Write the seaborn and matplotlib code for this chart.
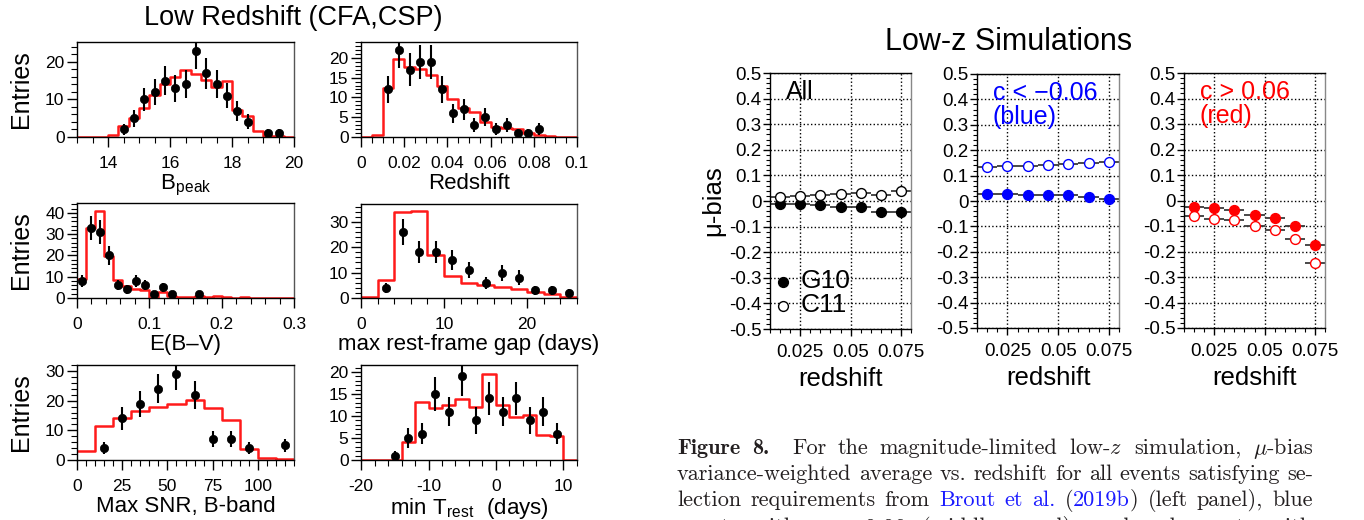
import numpy as np
import pandas as pd
import matplotlib
matplotlib.use("Agg")
import matplotlib.pyplot as plt
import seaborn as sns
from matplotlib.ticker import MultipleLocator

# ====================== DATA ======================
# ---- Left figure: Low Redshift (CFA,CSP); red = simulation, black = data ----
bpeak_edges = np.linspace(13.0, 20.0, 22)
bpeak_sim = [0, 0, 0, 0.5, 2.8, 5.1, 7.8, 11.3, 14.2, 16.0, 17.8, 16.7, 15.1, 13.2,
             14.8, 7.1, 5.5, 1.5, 0.3, 0.2, 0]
bpeak_x = [14.5, 14.833, 15.167, 15.5, 15.833, 16.167, 16.5, 16.833, 17.167, 17.5,
           17.833, 18.167, 18.5, 19.167, 19.5]
bpeak_n = [2, 5, 10, 12, 15, 13, 14, 23, 17, 14, 11, 7, 4, 1, 1]

z_edges = np.linspace(0.0, 0.1, 21)
z_sim = [0, 0.6, 12.5, 19.6, 17.6, 17.3, 15.6, 12.8, 9.5, 7.2, 6.2, 3.8, 2.6, 2.3,
         2.0, 1.0, 0.5, 0.15, 0, 0]
z_x = [0.0125, 0.0175, 0.0225, 0.0275, 0.0325, 0.0375, 0.0425, 0.0475, 0.0525,
       0.0575, 0.0625, 0.0675, 0.0725, 0.0775, 0.0825]
z_n = [12, 22, 17, 19, 19, 12, 6, 7, 3, 5, 2, 3, 1, 1, 2]

ebv_edges = np.linspace(0.0, 0.3, 25)
ebv_sim = [9.1, 32.8, 40.8, 19.6, 8.6, 5.5, 4.2, 3.9, 0, 2.8, 0.8, 0.3, 0.3, 0.8,
           0.3, 0.8, 0.3, 0, 0.3, 0, 0, 0, 0, 0]
ebv_x = [0.00625, 0.01875, 0.03125, 0.04375, 0.05625, 0.06875, 0.08125, 0.09375,
         0.10625, 0.11875, 0.13125, 0.16875]
ebv_n = [8, 33, 31, 20, 6, 4, 8, 6, 2, 5, 2, 2]

gap_edges = np.linspace(0, 26, 14)
gap_sim = [0.4, 7.2, 34.0, 34.2, 17.1, 8.8, 5.9, 5.3, 4.3, 3.6, 2.4, 1.4, 0.5]
gap_x = [3, 5, 7, 9, 11, 13, 15, 17, 19, 21, 23, 25]
gap_n = [4, 26, 18, 18, 15, 11, 6, 10, 8, 3, 3, 2]

snr_edges = np.linspace(0, 120, 13)
snr_sim = [3.0, 11.4, 14.0, 16.6, 17.9, 18.7, 20.2, 17.6, 13.4, 3.7, 0.6, 0.2]
snr_x = [15, 25, 35, 45, 55, 65, 75, 85, 95, 115]
snr_n = [4, 14, 19, 24, 29, 22, 7, 7, 4, 5]

trest_edges = np.linspace(-20, 12, 17)
trest_sim = [0, 0, 0, 4.0, 13.2, 11.8, 12.6, 13.8, 12.0, 19.5, 12.5, 9.8, 10.3,
             5.7, 5.4, 0]
trest_x = [-15, -13, -11, -9, -7, -5, -3, -1, 1, 3, 5, 7, 9]
trest_n = [1, 5, 6, 15, 11, 19, 9, 14, 11, 14, 9, 11, 6]

# tick labels of the left panels
bpeak_xticks, bpeak_xlabels = [14, 16, 18, 20], ["14", "16", "18", "20"]
z_xticks, z_xlabels = [0, 0.02, 0.04, 0.06, 0.08, 0.1], ["0", "0.02", "0.04", "0.06", "0.08", "0.1"]
ebv_xticks, ebv_xlabels = [0, 0.1, 0.2, 0.3], ["0", "0.1", "0.2", "0.3"]
gap_xticks, gap_xlabels = [0, 10, 20], ["0", "10", "20"]
snr_xticks, snr_xlabels = [0, 25, 50, 75, 100], ["0", "25", "50", "75", "100"]
trest_xticks, trest_xlabels = [-20, -10, 0, 10], ["-20", "-10", "0", "10"]

# ---- Right figure: Low-z Simulations, mu-bias vs redshift ----
mu_z = [0.015, 0.025, 0.035, 0.045, 0.055, 0.065, 0.075]
all_g10 = [-0.010, -0.010, -0.016, -0.023, -0.025, -0.042, -0.042]
all_c11 = [0.016, 0.020, 0.023, 0.027, 0.032, 0.025, 0.038]
blue_g10 = [0.027, 0.027, 0.024, 0.022, 0.023, 0.014, 0.007]
blue_c11 = [0.132, 0.136, 0.136, 0.141, 0.146, 0.150, 0.155]
red_g10 = [-0.025, -0.031, -0.039, -0.058, -0.070, -0.099, -0.175]
red_c11 = [-0.059, -0.071, -0.078, -0.099, -0.114, -0.150, -0.244]
mu_xticks, mu_xlabels = [0.025, 0.05, 0.075], ["0.025", "0.05", "0.075"]
mu_yticks = [0.5, 0.4, 0.3, 0.2, 0.1, 0.0, -0.1, -0.2, -0.3, -0.4, -0.5]
mu_ylabels = ["0.5", "0.4", "0.3", "0.2", "0.1", "0", "-0.1", "-0.2", "-0.3", "-0.4", "-0.5"]

# ---- Caption ----
caption_lines = [
    [[("Figure", "b")], [("8.", "b")], [("For", "r")], [("the", "r")],
     [("magnitude-limited", "r")], [("low-$z$", "r")], [("simulation,", "r")],
     [(r"$\mu$-bias", "r")]],
    [[(w, "r")] for w in "variance-weighted average vs. redshift for all events satisfying se-".split()],
    [[("lection", "r")], [("requirements", "r")], [("from", "r")], [("Brout", "l")],
     [("et", "l")], [("al.", "l")], [("(", "r"), ("2019b", "l"), (")", "r")],
     [("(left", "r")], [("panel),", "r")], [("blue", "r")]],
    [[(w, "r")] for w in "events with".split()] + [[("$c<-0.06$", "r")]] +
    [[(w, "r")] for w in "(middle panel), and red events with".split()],
]

# ====================== STYLE ======================
W, H = 1364, 520
sns.set_theme(style="ticks")
plt.rcParams["font.family"] = ["Liberation Sans", "DejaVu Sans"]
plt.rcParams["mathtext.fontset"] = "cm"
plt.rcParams["axes.unicode_minus"] = False
plt.rcParams["text.color"] = "black"
plt.rcParams["axes.labelcolor"] = "black"
plt.rcParams["xtick.color"] = "black"
plt.rcParams["ytick.color"] = "black"

fig = plt.figure(figsize=(W / 100, H / 100), dpi=100)
fig.patch.set_facecolor("white")


def px_axes(l, t, r, b):
    return fig.add_axes([l / W, 1 - b / H, (r - l) / W, (b - t) / H])


# ====================== LEFT HISTOGRAMS ======================
left_panels = [
    dict(box=(77, 42, 294, 137), edges=bpeak_edges, sim=bpeak_sim, x=bpeak_x, n=bpeak_n,
         xlim=(13, 20), ylim=(0, 25.3), xt=bpeak_xticks, xl=bpeak_xlabels, xmin=0.5,
         yt=[0, 10, 20], ymin=2, xlabel=r"B$_\mathregular{peak}$", ent=True),
    dict(box=(361, 42, 577, 137), edges=z_edges, sim=z_sim, x=z_x, n=z_n,
         xlim=(0, 0.1), ylim=(0, 24), xt=z_xticks, xl=z_xlabels, xmin=0.005,
         yt=[0, 5, 10, 15, 20], ymin=1, xlabel="Redshift", ent=False),
    dict(box=(77, 203, 294, 298), edges=ebv_edges, sim=ebv_sim, x=ebv_x, n=ebv_n,
         xlim=(0, 0.3), ylim=(0, 44.7), xt=ebv_xticks, xl=ebv_xlabels, xmin=0.02,
         yt=[0, 10, 20, 30, 40], ymin=2, xlabel="E(B\u2013V)", ent=True),
    dict(box=(361, 204, 577, 298), edges=gap_edges, sim=gap_sim, x=gap_x, n=gap_n,
         xlim=(0, 26), ylim=(0, 37), xt=gap_xticks, xl=gap_xlabels, xmin=2,
         yt=[0, 10, 20, 30], ymin=2, xlabel="max rest-frame gap (days)", ent=False),
    dict(box=(77, 365, 294, 460), edges=snr_edges, sim=snr_sim, x=snr_x, n=snr_n,
         xlim=(0, 120), ylim=(0, 32), xt=snr_xticks, xl=snr_xlabels, xmin=5,
         yt=[0, 10, 20, 30], ymin=2, xlabel="Max SNR, B-band", ent=True),
    dict(box=(361, 365, 577, 460), edges=trest_edges, sim=trest_sim, x=trest_x, n=trest_n,
         xlim=(-20, 12), ylim=(0, 21.6), xt=trest_xticks, xl=trest_xlabels, xmin=2,
         yt=[0, 5, 10, 15, 20], ymin=1, xlabel=r"min T$_\mathregular{rest}$  (days)", ent=False),
]

for p in left_panels:
    ax = px_axes(*p["box"])
    edges = [float(e) for e in p["edges"]]
    hist_df = pd.DataFrame({"center": [(a + b) / 2 for a, b in zip(edges[:-1], edges[1:])],
                            "entries": [float(v) for v in p["sim"]]})
    sns.histplot(data=hist_df, x="center", weights="entries", bins=edges,
                 element="step", fill=False, color="#ff1a1a", linewidth=1.8,
                 ax=ax, zorder=2)
    n = np.asarray(p["n"], dtype=float)
    ax.errorbar(p["x"], n, yerr=np.sqrt(n), fmt="none", ecolor="black",
                elinewidth=1.5, capsize=0, zorder=3)
    sns.scatterplot(x=p["x"], y=n, color="black", s=36, edgecolor="black",
                    linewidth=0.5, ax=ax, zorder=4)
    ax.set_xlim(*p["xlim"])
    ax.set_ylim(*p["ylim"])
    ax.set_xticks(p["xt"])
    ax.set_xticklabels(p["xl"])
    ax.set_yticks(p["yt"])
    ax.xaxis.set_minor_locator(MultipleLocator(p["xmin"]))
    ax.yaxis.set_minor_locator(MultipleLocator(p["ymin"]))
    ax.tick_params(which="major", direction="out", length=7, width=1, labelsize=12.5)
    ax.tick_params(which="minor", direction="out", length=4, width=0.8)
    ax.tick_params(axis="x", which="major", pad=7)
    ax.tick_params(axis="y", which="major", pad=2)
    for s in ax.spines.values():
        s.set_visible(True)
        s.set_color("black")
        s.set_linewidth(1.0)
    ax.spines["right"].set_color("#555555")
    ax.set_xlabel(p["xlabel"], fontsize=16, labelpad=1)
    ax.set_ylabel("Entries" if p["ent"] else "", fontsize=18, labelpad=9)
    ax.set_facecolor("white")

fig.text(293 / W, 1 - 18 / H, "Low Redshift (CFA,CSP)", ha="center", va="center",
         fontsize=19.5)

# ====================== RIGHT MU-BIAS PANELS ======================
right_panels = [
    dict(box=(770, 73, 911, 329), g10=all_g10, c11=all_c11, col="black",
         txt=["All"], ylabel=True, legend=True),
    dict(box=(977, 74, 1119, 328), g10=blue_g10, c11=blue_c11, col="#0000ff",
         txt=["c < \u22120.06", "(blue)"], ylabel=False, legend=False),
    dict(box=(1184, 73, 1325, 328), g10=red_g10, c11=red_c11, col="#ff0000",
         txt=["c > 0.06", "(red)"], ylabel=False, legend=False),
]

for p in right_panels:
    ax = px_axes(*p["box"])
    ax.set_facecolor("white")
    ax.grid(True, which="major", linestyle=":", color="black", linewidth=1.0, zorder=0)
    for series in (p["g10"], p["c11"]):
        ax.errorbar(mu_z, series, xerr=0.005, fmt="none", ecolor="#3a3a3a",
                    elinewidth=1.3, capsize=0, zorder=2)
    sns.scatterplot(x=mu_z, y=p["g10"], color=p["col"], edgecolor=p["col"], s=50,
                    linewidth=1, ax=ax, zorder=3, label="G10")
    sns.scatterplot(x=mu_z, y=p["c11"], color="white", edgecolor=p["col"], s=50,
                    linewidth=1, ax=ax, zorder=3, label="C11")
    ax.set_xlim(0.01, 0.08)
    ax.set_ylim(-0.5, 0.5)
    ax.set_xticks(mu_xticks)
    ax.set_xticklabels(mu_xlabels)
    ax.set_yticks(mu_yticks)
    ax.set_yticklabels(mu_ylabels)
    ax.xaxis.set_minor_locator(MultipleLocator(0.005))
    ax.yaxis.set_minor_locator(MultipleLocator(0.02))
    ax.tick_params(which="major", direction="out", length=5, width=1, labelsize=13.5)
    ax.tick_params(which="minor", direction="out", length=3, width=0.8)
    ax.tick_params(axis="y", which="major", pad=1)
    ax.tick_params(axis="x", which="major", pad=6)
    for s in ax.spines.values():
        s.set_visible(True)
        s.set_color("black")
        s.set_linewidth(1.0)
    ax.spines["right"].set_color("#888888")
    ax.set_xlabel("redshift", fontsize=18.5, labelpad=4)
    if p["ylabel"]:
        ax.set_ylabel("\u03bc-bias", fontsize=18.5, labelpad=3)
    ytxt = [0.925, 0.83]
    for i, t in enumerate(p["txt"]):
        ax.text(0.11, ytxt[i], t, transform=ax.transAxes, fontsize=18, color=p["col"],
                ha="left", va="center", zorder=5)
    if p["legend"]:
        ax.legend(loc="lower left", bbox_to_anchor=(0.0, 0.045), frameon=False,
                  fontsize=19, handletextpad=0.15, labelspacing=0.0, borderpad=0,
                  borderaxespad=0, handlelength=1.0, markerscale=1.0)
    else:
        leg = ax.get_legend()
        if leg is not None:
            leg.remove()

fig.text(1009 / W, 1 - 42 / H, "Low-z Simulations", ha="center", va="center",
         fontsize=22)

# ====================== CAPTION ======================
cap_color = "#231f20"
link_color = "#1a1aff"
CAP_STYLES = {
    "b": dict(family="cmb10", color=cap_color),
    "r": dict(family="cmr10", color=cap_color),
    "l": dict(family="cmr10", color=link_color),
}
renderer = fig.canvas.get_renderer()


def place_line(words, y_px, x0_px, x1_px, size, gap_weights=None):
    items, total = [], 0.0
    for w in words:
        segs = []
        for txt, st in w:
            t = fig.text(0, 1 - y_px / H, txt, fontsize=size, va="baseline", ha="left",
                         **CAP_STYLES[st])
            wd = t.get_window_extent(renderer=renderer).width
            segs.append((t, wd))
            total += wd
        items.append(segs)
    n = len(items)
    weights = gap_weights if gap_weights is not None else [1.0] * (n - 1)
    unit = (x1_px - x0_px - total) / sum(weights)
    x = x0_px
    for i, segs in enumerate(items):
        for t, wd in segs:
            t.set_x(x / W)
            x += wd
        if i < n - 1:
            x += unit * weights[i]


cap_size = 16.0
cap_baselines = [454, 480, 506, 533]
for k, words in enumerate(caption_lines):
    gw = None
    if k == 0:
        gw = [1.0, 2.0] + [1.0] * (len(words) - 3)
    place_line(words, cap_baselines[k], 677, 1313, cap_size, gw)

fig.savefig("out.png", dpi=100, facecolor="white")
